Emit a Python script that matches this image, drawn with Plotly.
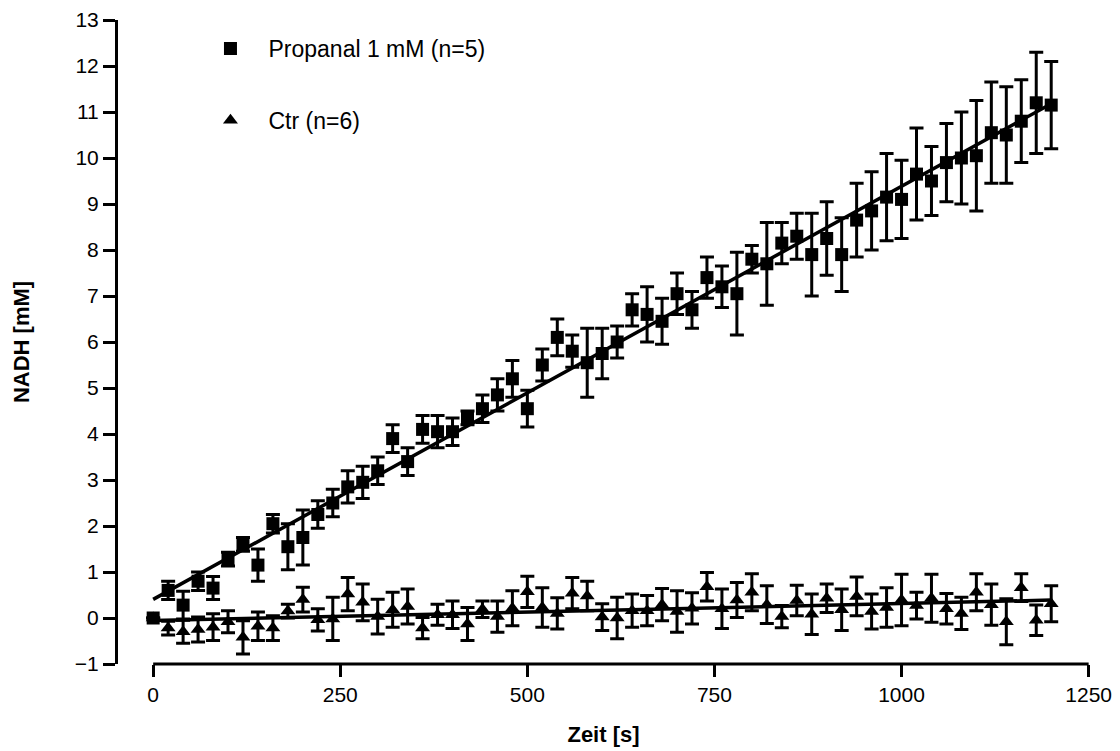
import numpy as np
import plotly.graph_objects as go

time_s = list(range(0, 1201, 20))

propanal_mean = [0.0, 0.6, 0.28, 0.8, 0.65, 1.28, 1.6, 1.15, 2.05, 1.55,
                 1.75, 2.25, 2.5, 2.85, 2.95, 3.2, 3.9, 3.4, 4.1, 4.05,
                 4.05, 4.35, 4.55, 4.85, 5.2, 4.55, 5.5, 6.1, 5.8, 5.55,
                 5.75, 6.0, 6.7, 6.6, 6.45, 7.05, 6.7, 7.4, 7.2, 7.05,
                 7.8, 7.7, 8.15, 8.3, 7.9, 8.25, 7.9, 8.65, 8.85, 9.15,
                 9.1, 9.65, 9.5, 9.9, 10.0, 10.05, 10.55, 10.5, 10.8, 11.2,
                 11.15]
propanal_err = [0.0, 0.2, 0.3, 0.2, 0.25, 0.15, 0.15, 0.35, 0.2, 0.5,
                0.6, 0.3, 0.3, 0.35, 0.35, 0.3, 0.3, 0.3, 0.3, 0.35,
                0.3, 0.15, 0.3, 0.35, 0.4, 0.4, 0.35, 0.4, 0.35, 0.75,
                0.55, 0.35, 0.35, 0.6, 0.5, 0.45, 0.4, 0.45, 0.45, 0.9,
                0.3, 0.9, 0.45, 0.5, 0.9, 0.8, 0.8, 0.8, 0.85, 0.95,
                0.85, 1.0, 0.75, 0.85, 1.0, 1.2, 1.1, 1.05, 0.9, 1.1,
                0.95]

ctr_mean = [0.0, -0.22, -0.3, -0.25, -0.2, -0.08, -0.42, -0.18, -0.22, 0.15,
            0.4, -0.04, -0.02, 0.52, 0.34, 0.03, 0.18, 0.25, -0.22, 0.07,
            0.07, -0.13, 0.19, 0.03, 0.21, 0.57, 0.23, 0.1, 0.54, 0.48,
            0.02, 0.0, 0.16, 0.16, 0.29, 0.14, 0.21, 0.68, 0.2, 0.39,
            0.56, 0.29, 0.03, 0.38, 0.08, 0.43, 0.18, 0.47, 0.14, 0.23,
            0.39, 0.27, 0.43, 0.2, 0.1, 0.56, 0.29, -0.08, 0.66, -0.05,
            0.31]
ctr_err = [0.0, 0.15, 0.25, 0.27, 0.29, 0.24, 0.36, 0.31, 0.27, 0.15,
           0.27, 0.24, 0.47, 0.36, 0.4, 0.38, 0.38, 0.38, 0.23, 0.23,
           0.3, 0.36, 0.18, 0.34, 0.38, 0.34, 0.43, 0.34, 0.34, 0.32,
           0.29, 0.45, 0.36, 0.33, 0.35, 0.45, 0.34, 0.31, 0.43, 0.38,
           0.4, 0.41, 0.24, 0.33, 0.44, 0.31, 0.45, 0.42, 0.38, 0.43,
           0.56, 0.29, 0.52, 0.33, 0.35, 0.4, 0.45, 0.5, 0.3, 0.33,
           0.39]

x_ticks = [0, 250, 500, 750, 1000, 1250]
y_ticks = list(range(-1, 14))

FONT = "Liberation Sans, Arial, sans-serif"

t = np.array(time_s, dtype=float)
p_fit = np.polyfit(t, np.array(propanal_mean), 1)
c_fit = np.polyfit(t, np.array(ctr_mean), 1)
fit_x = [time_s[0], time_s[-1]]

fig = go.Figure()

fig.add_trace(go.Scatter(
    x=fit_x, y=list(np.polyval(p_fit, fit_x)), mode="lines",
    line=dict(color="black", width=3.5), showlegend=False, hoverinfo="skip"))
fig.add_trace(go.Scatter(
    x=fit_x, y=list(np.polyval(c_fit, fit_x)), mode="lines",
    line=dict(color="black", width=3.5), showlegend=False, hoverinfo="skip"))

fig.add_trace(go.Scatter(
    x=time_s, y=propanal_mean, mode="markers", name="Propanal 1 mM (n=5)",
    legendgroup="p",
    marker=dict(symbol="square", size=13, color="black"),
    error_y=dict(type="data", array=propanal_err, color="black",
                 thickness=3, width=7)))
fig.add_trace(go.Scatter(
    x=time_s, y=ctr_mean, mode="markers", name="Ctr (n=6)",
    legendgroup="c",
    marker=dict(symbol="triangle-up", size=13, color="black"),
    error_y=dict(type="data", array=ctr_err, color="black",
                 thickness=3, width=7)))

# x axis line spans only the tick range (0 .. 1250)
fig.add_shape(type="line", xref="x", yref="paper",
              x0=x_ticks[0], x1=x_ticks[-1], y0=0, y1=0,
              line=dict(color="black", width=3))

fig.update_layout(
    width=1112, height=743,
    margin=dict(l=110, r=31, t=12, b=87, autoexpand=False),
    paper_bgcolor="white", plot_bgcolor="white",
    font=dict(family=FONT, size=21, color="black"),
    showlegend=True,
    legend=dict(x=0.0767, y=0.9744, xanchor="left", yanchor="top",
                yref="container",
                bgcolor="rgba(0,0,0,0)", tracegroupgap=39,
                font=dict(size=23), itemwidth=66),
    xaxis=dict(range=[-47, 1250.5], tickvals=x_ticks, ticks="outside",
               ticklen=12, tickwidth=3, tickcolor="black", showline=False,
               showgrid=False, zeroline=False, tickfont=dict(size=21),
               automargin=False,
               title=dict(text="<b>Zeit [s]</b>", standoff=21,
                          font=dict(size=22))),
    yaxis=dict(range=[-1.0, 13.0], tickvals=y_ticks, ticks="outside",
               ticklen=12, tickwidth=3, tickcolor="black", showline=True,
               linewidth=3, linecolor="black", showgrid=False,
               zeroline=False, tickfont=dict(size=21), automargin=False,
               title=dict(text="<b>NADH [mM]</b>", standoff=40,
                          font=dict(size=22))),
)

fig.write_html("out.html")
